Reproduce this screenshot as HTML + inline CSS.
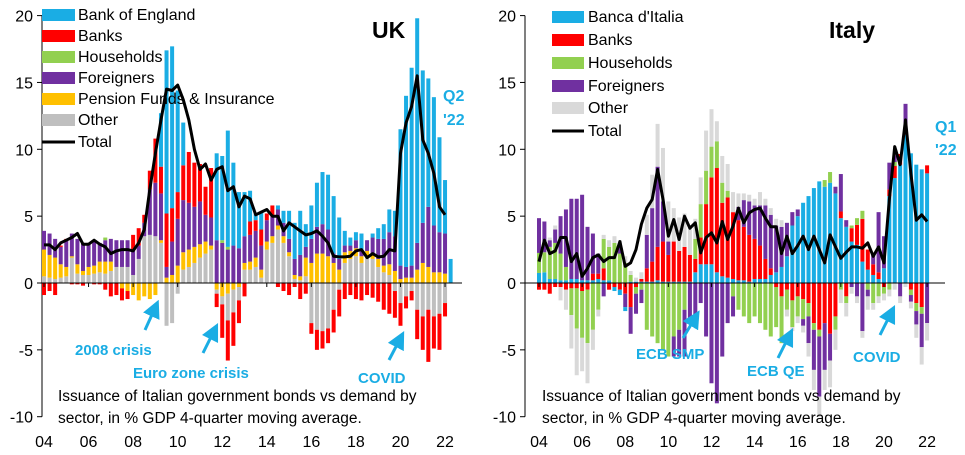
<!DOCTYPE html>
<html><head><meta charset="utf-8"><style>
html,body{margin:0;padding:0;background:#fff;}
svg{display:block;font-family:"Liberation Sans",Arial,sans-serif;}
</style></head><body>
<svg id="chart" width="965" height="455" viewBox="0 0 965 455" xmlns="http://www.w3.org/2000/svg">
<g id="uk"></g>
<g id="it"></g>
</svg>
<script>
// ---------- UK data (2004Q1 .. 2022Q2) ----------
const ukBoe=[0,0,0,0,0,0,0,0,0,0,0,0,0,0,0,0,0,0,0,0,0,4,12.2,12.1,7.6,3.2,0,0,0,0,0,6.5,6.3,8.7,6.2,4.2,3.3,2.3,.5,1.3,0,0,.3,.9,2.1,2.7,3.3,1.7,2.5,3.3,3.9,4.1,4.3,3.1,1.1,.6,.6,1.2,0,.3,.8,1.1,1.7,1.9,10.2,12.8,14.8,16.8,11.4,9.6,9.6,7.1,4.0,1.8];
const ukBanks=[-0.9,-0.6,-0.9,0.1,0.1,-0.1,-0.1,-0.2,0,-0.1,-0.1,-0.5,-1.0,-0.9,-0.9,-0.6,1.2,1.3,0.6,1.4,3.3,2.0,4.0,2.5,2.0,2.6,3.8,3.3,2.8,2.1,3.7,-1.0,-2.5,-3.0,-2.5,-1.7,-1.0,1.0,0.8,1.2,0.5,0.8,-0.3,-0.6,-0.9,-0.3,-1.2,-0.8,-0.8,-1.5,-1.3,-1.1,-1.7,-2.0,-1.2,-0.9,-1.2,-1.3,-0.9,-1.1,-1.4,-2.0,-2.3,-2.0,-1.7,-0.9,-0.7,-2.2,-2.5,-3.9,-2.4,-2.7,-1.0,0];
const ukHouse=[0,0,0,0,0,0,0,0,0,0,0,0.2,0,0,0,0,0,0,0,0,0,0,0,0,0,0,0,0,0,0,0,0,0.2,0.2,0,0,0,0,0,0,0,0,0,0,0,0,0,0,0,0,0,0,0,0,0,0,0,0,0,0,0,0,0,0,0,0,0,0,0,0,0,0,0,0];
const ukForeign=[1.4,1.6,1.4,1.3,2.0,1.7,1.9,2.1,1.8,1.9,1.4,1.6,1.7,2.0,2.0,2.0,1.8,1.0,1.0,3.4,4.0,3.5,0.8,2.5,3.5,3.9,3.5,3.0,3.2,2.0,2.1,3.2,3.0,2.5,2.8,2.6,2.0,2.0,2.0,1.8,1.6,1.5,1.2,1.0,1.0,1.2,1.6,0.8,1.8,2.0,2.2,2.0,0.7,0.8,0.5,0.4,0.6,0.5,0.8,1.2,1.5,2.0,2.4,2.6,1.0,0.8,0.9,2.0,3.0,4.5,3.5,3.0,3.0,0];
const ukPension=[2.0,1.7,1.6,1.0,.7,.1,.7,.3,.6,.6,.8,.9,.7,0,-0.4,-0.6,-0.9,-1.3,-1.0,-1.2,-0.9,0.2,0.4,0.6,1.3,1.3,1.3,1.2,1.0,0.9,0.3,-0.5,-1.0,-0.8,-0.5,-0.3,0.5,0.6,0.7,0.6,0.6,0.5,0.3,0.5,0.3,0.3,0.3,1.4,1.5,2.2,2.2,2.0,1.5,1.0,0.8,0.6,0.6,0.5,0.4,0.4,0.6,0.5,0.8,0.9,0.3,0.4,0.4,1.0,1.5,1.2,0.8,0.8,0.7,0];
const ukOther=[.5,.4,.3,.4,.5,1.9,.7,.6,.6,.7,.8,.7,.9,1.2,1.2,1.2,.6,1.8,3.5,3.6,3.5,3.0,-3.2,-3.0,-0.8,1.0,1.2,1.5,1.9,2.2,2.5,-0.3,-0.6,-2.0,-1.7,-1.0,1.0,1.0,1.2,0.4,2.5,3.0,4.0,3.0,2.0,0.3,0.2,0.5,-3.0,-3.5,-3.6,-3.4,-2.0,-0.5,1.5,1.8,2.0,1.5,2.0,1.8,1.2,0.8,0.6,-0.6,-1.5,-1.0,-0.6,-2.0,-2.5,-2.0,-2.5,-2.3,-1.5,0];
const ukTotal=[2.85,2.85,2.5,3.0,3.2,3.4,3.7,2.9,2.9,3.2,2.9,2.7,2.2,2.4,2.5,2.5,2.4,3.0,4.0,7.0,9.7,12.2,14.5,14.4,14.8,13.7,12.2,10.0,8.5,8.9,7.7,8.5,8.7,6.9,7.2,5.7,6.5,6.3,5.1,5.3,5.5,5.0,5.0,3.9,4.5,4.2,3.9,3.6,3.7,3.9,3.5,3.0,2.0,1.95,1.95,2.0,2.4,2.5,1.9,2.2,1.95,2.0,2.5,2.4,9.7,12.0,13.2,15.5,10.7,9.7,8.2,5.7,5.1,null];
// ---------- Italy data (2004Q1 .. 2022Q1) ----------
const itBdi=[.75,.8,.3,.3,.2,.2,.3,.3,.2,.2,.2,.3,.2,.2,-0.3,-0.4,-0.3,.1,.1,.1,.1,.1,.2,.1,.1,.1,.1,.1,.1,.8,1.4,1.4,1.4,.8,.5,.4,.3,.2,.2,.1,.3,.3,.3,.6,.8,1.2,2.0,4.3,5.0,6.0,6.5,7.1,7.6,7.2,7.5,6.7,4.85,4.2,3.1,2.85,1.6,1.0,.6,.3,1.1,6.5,7.85,8.85,11.1,9.7,8.85,8.5,8.2];
const itBanks=[-.5,-.5,-.8,-.3,-.3,-.5,-.4,-.4,-.6,-.5,.5,.4,.9,-0.5,-0.3,-0.5,-0.8,-1.8,-0.3,.2,1.0,1.5,2.5,3.0,2.0,3.0,2.3,2.6,2.0,1.0,2.0,4.5,6.5,7.8,5.5,6.0,5.0,4.5,4.0,3.5,3.0,2.5,1.5,.5,-0.3,-1.0,-0.5,-1.3,-1.0,-1.2,-1.5,-3.0,-3.5,-3.0,-3.8,-2.5,.5,-1.0,1.0,1.5,3.2,1.5,.8,.5,-0.3,.5,.9,.8,.8,-0.5,-1.5,-1.8,.6];
const itHouse=[1.5,1.5,2.4,2.7,2.0,1.0,-2.0,-3.0,-3.5,-4.0,-3.5,-2.0,2.2,2.5,3.0,2.2,1.5,0.5,-0.5,-0.5,-3.5,-4.0,-4.5,-5.0,-5.5,-4.0,-3.5,-2.0,0.0,1.5,2.5,2.5,2.3,2.0,1.5,0.5,-1.0,-2.0,-2.5,-3.0,-2.5,-3.0,-3.5,-4.0,-3.0,-3.5,-1.5,-2.0,-1.5,-1.5,-1.0,-0.5,-0.5,0.5,0.8,-1.0,-0.5,-0.5,0.2,0.5,0.6,-0.5,-1.5,-1.0,-0.5,-0.5,0.3,0.0,0.0,-0.4,-0.6,-0.5,0.0];
const itForeign=[2.6,2.3,.5,1.0,2.8,4.3,6.0,6.0,6.4,4.0,3.0,1.5,-1.0,0,0,0.5,-1.0,-2.0,-1.5,-1.0,2.5,4.0,6.0,3.0,1.0,-1.5,-2.0,-3.5,-3.0,-2.5,-1.5,-4.0,-7.5,-9.0,-5.5,-3.0,-1.5,1.0,2.0,2.5,2.5,3.0,4.0,4.0,3.5,3.0,2.5,1.0,0.5,-0.5,-2.0,-3.0,-4.5,-3.5,-2.0,0.5,2.8,0.5,-0.3,-1.0,-3.6,-0.5,0.8,4.5,2.4,2.0,0.5,-1.0,1.5,-0.5,-1.0,-2.5,-3.0];
const itOther=[0,0,.2,.3,-1.0,-1.5,-2.5,-3.5,-2.5,-3.0,-1.5,-0.5,0.3,0.5,0.5,0.5,0.5,0.3,0.3,0.5,1.5,2.5,3.2,4.0,3.0,2.5,2.5,2.5,2.0,1.5,2.0,3.0,2.8,1.5,2.0,2.0,1.5,1.0,0.5,0.5,0.5,1.0,0.5,0.5,0.5,0.5,-0.5,-0.3,-0.5,-0.5,-1.0,-1.5,-1.5,-1.5,-2.0,-1.5,-1.0,-1.0,-0.5,-0.5,-0.5,-1.0,-0.5,-0.5,-0.5,-0.5,-0.5,-0.5,-0.3,-0.5,-1.0,-1.3,-1.3];
const itTotal=[1.6,3.2,2.2,2.4,3.4,3.4,1.6,2.2,0.5,1.1,1.9,2.1,1.6,1.9,1.9,3.1,1.25,1.5,2.5,4.4,5.6,6.25,8.5,6.25,3.5,4.75,3.25,5.0,4.1,4.5,2.25,3.4,3.75,3.0,4.6,3.25,4.25,5.6,4.5,5.25,5.5,5.6,4.85,4.2,4.2,2.2,3.5,2.2,2.8,3.5,2.5,3.5,2.5,1.5,3.6,2.7,1.85,2.3,2.7,2.7,2.6,3.0,2.0,2.7,1.5,6.2,10.2,8.85,12.2,8.2,4.7,5.1,4.6];
const yTicks=[20,15,10,5,0,-5,-10];
const yearLabels=["04","06","08","10","12","14","16","18","20","22"];

const NS="http://www.w3.org/2000/svg";
function mk(parent,tag,attrs,text){const e=document.createElementNS(NS,tag);for(const k in attrs)e.setAttribute(k,attrs[k]);if(text!==undefined)e.textContent=text;parent.appendChild(e);return e;}
const Y0=283,PX=13.37;
function yS(v){return Y0-v*PX;}
const BLUE="#1AADE4",RED="#FF0000",GREEN="#92D050",PURPLE="#7030A0",YELLOW="#FFC000";

function panel(g,cfg){
  const xS=i=>cfg.x0+i*cfg.dx;
  // y axis
  let a=mk(g,"line",{x1:cfg.ax,y1:yS(20),x2:cfg.ax,y2:yS(-10),stroke:"#000","stroke-width":1});
  
  
  yTicks.forEach(t=>{
    let tk=mk(g,"line",{x1:cfg.ax-5,y1:yS(t),x2:cfg.ax,y2:yS(t),stroke:"#000"});
    
    
    let tl=mk(g,"text",{x:cfg.ax-9,y:yS(t)+6,"text-anchor":"end","font-size":16,fill:"#000"},String(t));
    
    
  });
  // bars
  const n=cfg.series[0].data.length;
  for(let i=0;i<n;i++){
    let pos=0,neg=0;
    cfg.posOrder.forEach(k=>{const s=cfg.series[k];const v=s.data[i];if(v>0){const r=mk(g,"rect",{x:xS(i)-2,y:yS(pos+v),width:4,height:v*PX,fill:s.color});pos+=v;}});
    cfg.negOrder.forEach(k=>{const s=cfg.series[k];const v=s.data[i];if(v<0){const r=mk(g,"rect",{x:xS(i)-2,y:yS(neg),width:4,height:-v*PX,fill:s.color});neg+=v;}});
  }
  // zero line
  let z=mk(g,"line",{x1:cfg.ax,y1:Y0,x2:cfg.zx2,y2:Y0,stroke:"#000","stroke-width":1});
  
  
  yearLabels.forEach((l,k)=>{
    const x=xS(8*k);
    let tk=mk(g,"line",{x1:x,y1:Y0,x2:x,y2:Y0+4,stroke:"#000"});
    
    
    let t=mk(g,"text",{x:x,y:447,"text-anchor":"middle","font-size":16,fill:"#000"},l);
    
    
  });
  // total line
  let d="";cfg.total.forEach((v,i)=>{if(v===null)return;d+=(d?"L":"M")+xS(i).toFixed(1)+","+yS(v).toFixed(1);});
  let p=mk(g,"path",{d:d,fill:"none",stroke:"#000","stroke-width":3,"stroke-linejoin":"round"});
  
  
}

const uk=document.getElementById("uk");
panel(uk,{x0:44,dx:5.57,ax:42,zx2:462,
  series:[{key:"other",data:ukOther,color:"#BFBFBF"},{key:"pension",data:ukPension,color:YELLOW},{key:"foreigners",data:ukForeign,color:PURPLE},{key:"households",data:ukHouse,color:GREEN},{key:"banks",data:ukBanks,color:RED},{key:"boe",data:ukBoe,color:BLUE}],
  posOrder:[0,1,2,3,4,5],negOrder:[1,3,0,2,4,5],total:ukTotal});
const it=document.getElementById("it");
panel(it,{x0:539,dx:5.39,ax:525,zx2:945,
  series:[{key:"bdi",data:itBdi,color:BLUE},{key:"banks",data:itBanks,color:RED},{key:"households",data:itHouse,color:GREEN},{key:"foreigners",data:itForeign,color:PURPLE},{key:"other",data:itOther,color:"#D9D9D9"}],
  posOrder:[0,1,2,3,4],negOrder:[1,2,3,4,0],total:itTotal});
</script>
<svg style="position:absolute;left:0;top:0" width="965" height="455">
<defs><marker id="ah" markerWidth="6" markerHeight="6" refX="3" refY="3" orient="auto"><path d="M0,0 L6,3 L0,6 z" fill="#1AADE4"/></marker></defs>
<g font-family="Liberation Sans, sans-serif" font-size="16" fill="#000">
 <g><rect x="42" y="9" width="33" height="12" fill="#1AADE4"/><text x="78" y="20">Bank of England</text></g>
 <g><rect x="42" y="30" width="33" height="12" fill="#FF0000"/><text x="78" y="41">Banks</text></g>
 <g><rect x="42" y="51" width="33" height="12" fill="#92D050"/><text x="78" y="62">Households</text></g>
 <g><rect x="42" y="72" width="33" height="12" fill="#7030A0"/><text x="78" y="83">Foreigners</text></g>
 <g><rect x="42" y="93" width="33" height="12" fill="#FFC000"/><text x="78" y="104">Pension Funds &amp; Insurance</text></g>
 <g><rect x="42" y="114" width="33" height="12" fill="#BFBFBF"/><text x="78" y="125">Other</text></g>
 <g><line x1="42" y1="142" x2="75" y2="142" stroke="#000" stroke-width="3"/><text x="78" y="147">Total</text></g>
</g>
<g font-family="Liberation Sans, sans-serif" font-size="16" fill="#000">
 <g><rect x="552" y="11" width="32" height="12" fill="#1AADE4"/><text x="588" y="22">Banca d'Italia</text></g>
 <g><rect x="552" y="34" width="32" height="12" fill="#FF0000"/><text x="588" y="45">Banks</text></g>
 <g><rect x="552" y="57" width="32" height="12" fill="#92D050"/><text x="588" y="68">Households</text></g>
 <g><rect x="552" y="80" width="32" height="12" fill="#7030A0"/><text x="588" y="91">Foreigners</text></g>
 <g><rect x="552" y="102" width="32" height="12" fill="#D9D9D9"/><text x="588" y="113">Other</text></g>
 <g><line x1="552" y1="131" x2="584" y2="131" stroke="#000" stroke-width="3"/><text x="588" y="136">Total</text></g>
</g>
<g font-family="Liberation Sans, sans-serif" font-weight="bold">
 <text x="372" y="38" font-size="23" fill="#000">UK</text>
 <text x="829" y="38" font-size="23" fill="#000">Italy</text>
 <text x="443" y="101" font-size="16" fill="#1AADE4">Q2</text>
 <text x="443" y="125" font-size="16" fill="#1AADE4">'22</text>
 <text x="935" y="132" font-size="16" fill="#1AADE4">Q1</text>
 <text x="935" y="155" font-size="16" fill="#1AADE4">'22</text>
 <text x="75" y="355" font-size="15" fill="#1AADE4">2008 crisis</text>
 <text x="133" y="378" font-size="15" fill="#1AADE4">Euro zone crisis</text>
 <text x="358" y="383" font-size="15" fill="#1AADE4">COVID</text>
 <text x="636" y="359" font-size="15" fill="#1AADE4">ECB SMP</text>
 <text x="747" y="376" font-size="15" fill="#1AADE4">ECB QE</text>
 <text x="853" y="362" font-size="15" fill="#1AADE4">COVID</text>
</g>
<g stroke="#1AADE4" stroke-width="3" marker-end="url(#ah)">
 <line x1="145" y1="330" x2="155" y2="308"/>
 <line x1="203" y1="353" x2="214" y2="331"/>
 <line x1="389" y1="360" x2="400" y2="339"/>
 <line x1="683" y1="338" x2="695" y2="318"/>
 <line x1="778" y1="358" x2="789" y2="336"/>
 <line x1="880" y1="335" x2="891" y2="313"/>
</g>
<g font-family="Liberation Sans, sans-serif" font-size="15.5" fill="#000">
 <text x="58" y="401">Issuance of Italian government bonds vs demand by</text>
 <text x="58" y="423">sector, in % GDP 4-quarter moving average.</text>
 <text x="542" y="401">Issuance of Italian government bonds vs demand by</text>
 <text x="542" y="423">sector, in % GDP 4-quarter moving average.</text>
</g>
</svg>
</body></html>
